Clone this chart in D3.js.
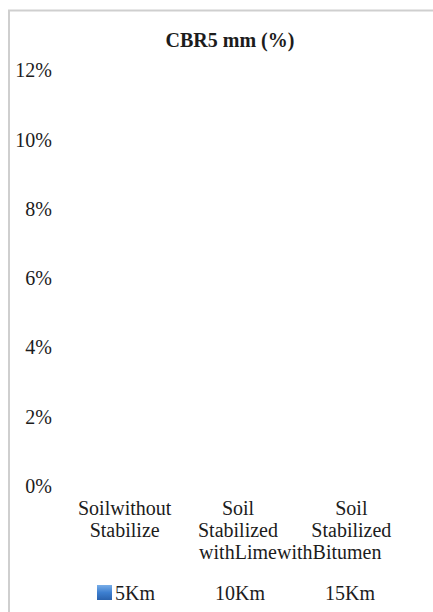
<!DOCTYPE html>
<html>
<head>
<meta charset="utf-8">
<script src="https://cdn.jsdelivr.net/npm/d3@7"></script>
<style>
  html, body { margin: 0; padding: 0; background: #fff; }
  svg { display: block; }
</style>
</head>
<body>
<svg id="chart" width="433" height="612"></svg>
<script>
// Chart content
const title = "CBR5 mm (%)";
const categories = ["Soilwithout Stabilize", "Soil Stabilized withLime", "Soil Stabilized withBitumen"];
const categoryLines = [["Soilwithout", "Stabilize"], ["Soil", "Stabilized", "withLime"], ["Soil", "Stabilized", "withBitumen"]];
const seriesNames = ["5Km", "10Km", "15Km"];
const seriesColors = ["#3d7fd0", "#ffffff", "#ffffff"];
const values5Km = [0, 0, 0];
const values10Km = [0, 0, 0];
const values15Km = [0, 0, 0];
const yTicks = [0, 0.02, 0.04, 0.06, 0.08, 0.10, 0.12];

const FONT = '"Liberation Serif"';
const INK = "#1c1c1c";
const styleText = sel => sel.style("font-family", FONT).style("font-size", "20px").style("fill", INK);

const svg = d3.select("#chart");
const defs = svg.append("defs");
const grad = defs.append("linearGradient").attr("id", "blueFill")
  .attr("x1", 0).attr("y1", 0).attr("x2", 0).attr("y2", 1);
grad.append("stop").attr("offset", "0%").attr("stop-color", "#79aee8");
grad.append("stop").attr("offset", "50%").attr("stop-color", "#3d7fd0");
grad.append("stop").attr("offset", "100%").attr("stop-color", "#2a62ad");

// Outer frame of the chart area
svg.append("rect")
  .attr("x", 9).attr("y", 10.5)
  .attr("width", 600).attr("height", 700)
  .attr("fill", "none").attr("stroke", "#cfcfcf").attr("stroke-width", 2);

// Title
svg.append("text")
  .attr("x", 230).attr("y", 47)
  .attr("text-anchor", "middle")
  .call(styleText)
  .style("font-weight", "bold")
  .text(title);

// Scales
const x = d3.scaleBand().domain(categories).range([68, 408]);
const y = d3.scaleLinear().domain([0, 0.12]).range([485.5, 70]);

// Y axis labels (no axis line, no gridlines)
const yAxis = d3.axisLeft(y).tickValues(yTicks).tickFormat(d3.format(".0%")).tickSize(0).tickPadding(0);
const yg = svg.append("g").attr("transform", "translate(52,0)").call(yAxis);
yg.attr("font-family", null).attr("font-size", null);
yg.select(".domain").remove();
yg.selectAll("text").call(styleText).attr("dy", "0.34em");

// Bars (all values are zero)
const seriesValues = [values5Km, values10Km, values15Km];
const inner = d3.scaleBand().domain(seriesNames).range([0, x.bandwidth()]).paddingInner(0.05).paddingOuter(0.3);
seriesValues.forEach((vals, si) => {
  svg.append("g").selectAll("rect")
    .data(vals)
    .join("rect")
    .attr("x", (d, i) => x(categories[i]) + inner(seriesNames[si]))
    .attr("width", inner.bandwidth())
    .attr("y", d => y(d))
    .attr("height", d => y(0) - y(d))
    .attr("fill", si === 0 ? "url(#blueFill)" : seriesColors[si]);
});

// Category labels, wrapped over lines
const lineBase = 515, lineStep = 22;
const catText = svg.append("g").selectAll("g")
  .data(categories)
  .join("g");
const lineNodes = [];
catText.each(function (c, ci) {
  const cx = x(c) + x.bandwidth() / 2;
  lineNodes[ci] = categoryLines[ci].map((ln, li) =>
    d3.select(this).append("text")
      .attr("x", cx)
      .attr("y", lineBase + li * lineStep)
      .attr("text-anchor", "middle")
      .call(styleText)
      .text(ln).node());
});
// The long third line of the last category runs on from the previous one
{
  const prev = lineNodes[1][2];
  const bb = prev.getBBox();
  d3.select(lineNodes[2][2]).attr("text-anchor", "start").attr("x", bb.x + bb.width);
}

// Legend
const legend = svg.append("g");
let lx = 97;
seriesNames.forEach((name, i) => {
  legend.append("rect")
    .attr("x", lx).attr("y", 585)
    .attr("width", 15).attr("height", 15)
    .attr("fill", i === 0 ? "url(#blueFill)" : seriesColors[i]);
  const t = legend.append("text")
    .attr("x", lx + 18).attr("y", 600)
    .call(styleText)
    .text(name);
  lx += 18 + t.node().getComputedTextLength() + 42;
});
</script>
</body>
</html>
